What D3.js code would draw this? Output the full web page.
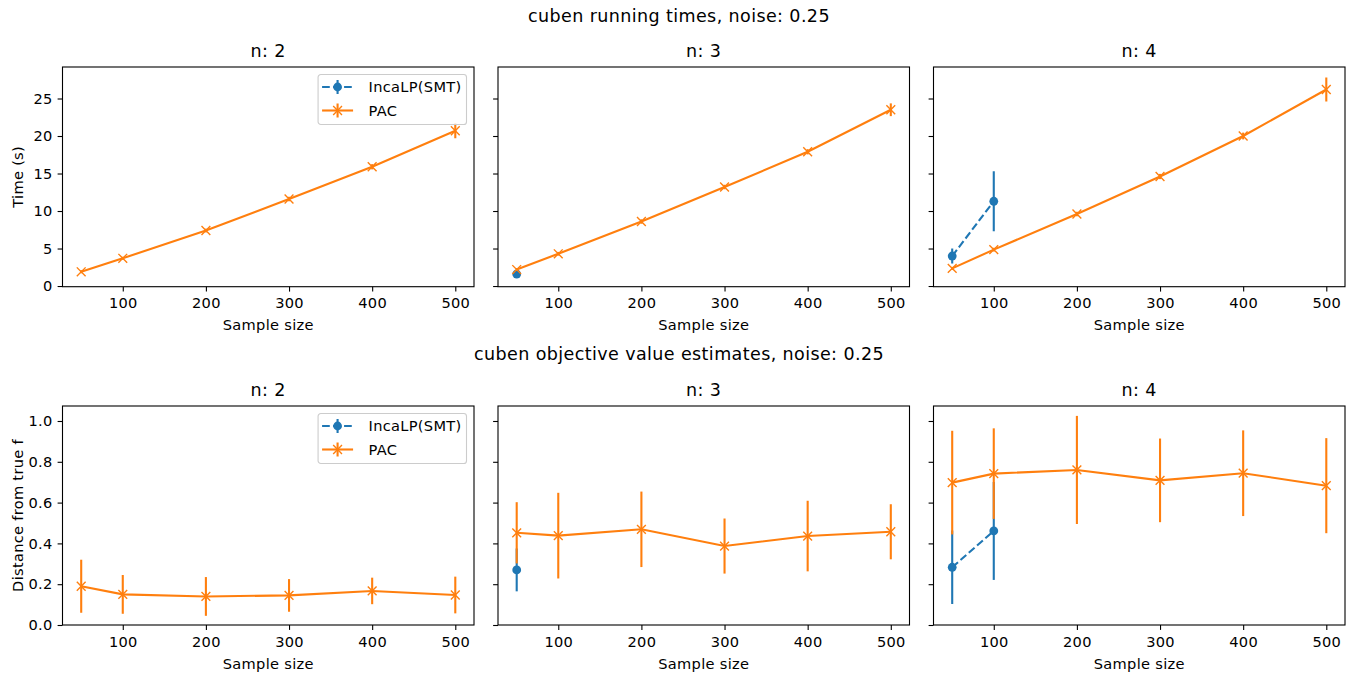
<!DOCTYPE html>
<html>
<head>
<meta charset="utf-8">
<script src="https://cdn.jsdelivr.net/npm/d3@7"></script>
<style>
  body { margin: 0; background: #fff; }
  text { font-family: "DejaVu Sans", sans-serif; fill: #000; }
  .tick line, .domain { stroke: #000; }
</style>
</head>
<body>
<svg id="fig" width="1359" height="677"></svg>
<script>
// ---- data ----
var nValues = [2, 3, 4];
var sampleSizes = [50, 100, 200, 300, 400, 500];

// running times (s), PAC
var timePacMean = [
    [1.9, 3.7, 7.4, 11.6, 15.9, 20.7],
    [2.2, 4.3, 8.6, 13.2, 17.9, 23.5],
    [2.35, 4.85, 9.6, 14.6, 20.0, 26.2]
];
var timePacErr = [
    [0.2, 0.2, 0.25, 0.3, 0.35, 1.0],
    [0.2, 0.25, 0.3, 0.3, 0.35, 0.85],
    [0.2, 0.25, 0.3, 0.35, 0.45, 1.6]
];
// running times (s), IncaLP(SMT) - only finished for small samples
var timeIncaSizes = [[], [50], [50, 100]];
var timeIncaMean = [[], [1.6], [4.0, 11.3]];
var timeIncaErr = [[], [0.2], [1.0, 4.0]];

// distance from true f, PAC
var distPacMean = [
    [0.19, 0.15, 0.14, 0.145, 0.167, 0.147],
    [0.452, 0.438, 0.469, 0.387, 0.436, 0.457],
    [0.698, 0.742, 0.76, 0.709, 0.744, 0.683]
];
var distPacErr = [
    [0.13, 0.095, 0.095, 0.08, 0.065, 0.09],
    [0.15, 0.21, 0.185, 0.135, 0.173, 0.135],
    [0.254, 0.222, 0.265, 0.205, 0.21, 0.233]
];
var distIncaSizes = [[], [50], [50, 100]];
var distIncaMean = [[], [0.27], [0.283, 0.461]];
var distIncaErr = [[], [0.105], [0.18, 0.24]];

var xTicks = [100, 200, 300, 400, 500];
var timeTicks = [0, 5, 10, 15, 20, 25];
var distTicks = [0, 0.2, 0.4, 0.6, 0.8, 1.0];
var seriesNames = ["IncaLP(SMT)", "PAC"];

// ---- layout ----
var blue = "#1f77b4", orange = "#ff7f0e";
var fontSize = 14.6, titleSize = 17.5;
var panelLefts = [62.5, 498, 933.5];
var panelW = 411.5;
var lw = 2.1;

var svg = d3.select("#fig");

function translate(x, y) {
    return "translate(" + x + "," + y + ")";
}

function zip(xs, ys, es) {
    return xs.map((x, i) => ({ x: x, y: ys[i], e: es[i] }));
}

function label(sel, size) {
    return sel.style("font-size", size + "px")
        .style("letter-spacing", (size > 16 ? 0.4 : 0.3) + "px");
}

function drawSeries(g, pts, x, y, color, dashed, marker) {
    var line = d3.line().x(d => x(d.x)).y(d => y(d.y));
    g.append("path")
        .attr("d", line(pts))
        .attr("fill", "none")
        .attr("stroke", color)
        .attr("stroke-width", lw)
        .attr("stroke-dasharray", dashed ? "7.7,3.3" : null);

    g.selectAll(null)
        .data(pts)
      .enter().append("line")
        .attr("x1", d => x(d.x)).attr("x2", d => x(d.x))
        .attr("y1", d => y(d.y - d.e)).attr("y2", d => y(d.y + d.e))
        .attr("stroke", color)
        .attr("stroke-width", lw);

    var m = g.selectAll(null)
        .data(pts)
      .enter().append("g")
        .attr("transform", d => translate(x(d.x), y(d.y)));
    drawMarker(m, color, marker);
}

function drawMarker(sel, color, marker) {
    if (marker == "o") {
        sel.append("circle").attr("r", 4.4).attr("fill", color);
    } else {
        sel.append("path")
            .attr("d", "M-4.4,-4.4L4.4,4.4M-4.4,4.4L4.4,-4.4")
            .attr("stroke", color)
            .attr("stroke-width", 1.4)
            .attr("fill", "none");
    }
}

function drawLegend(g, right, top) {
    var lg = g.append("g");
    var box = lg.append("rect");
    var rows = [
        { name: seriesNames[0], color: blue, dashed: true, marker: "o" },
        { name: seriesNames[1], color: orange, dashed: false, marker: "x" }
    ];
    var maxW = 0;
    rows.forEach(function(r, i) {
        var cy = 12.5 + i * 23.5;
        var h = lg.append("g").attr("transform", translate(0, cy));
        h.append("line")
            .attr("x1", 4).attr("x2", 35)
            .attr("stroke", r.color).attr("stroke-width", lw)
            .attr("stroke-dasharray", r.dashed ? "7.7,3.3" : null);
        h.append("line")
            .attr("x1", 19.5).attr("x2", 19.5).attr("y1", -7).attr("y2", 7)
            .attr("stroke", r.color).attr("stroke-width", lw);
        drawMarker(h.append("g").attr("transform", translate(19.5, 0)), r.color, r.marker);
        var t = label(h.append("text"), fontSize)
            .attr("x", 50.5).attr("dy", "0.36em")
            .text(r.name);
        maxW = Math.max(maxW, t.node().getComputedTextLength());
    });
    var w = 50.5 + maxW + 5;
    box.attr("width", w).attr("height", 50)
        .attr("rx", 2.8)
        .attr("fill", "#fff").attr("fill-opacity", 0.8)
        .attr("stroke", "#cccccc").attr("stroke-width", 1.1);
    lg.attr("transform", translate(right - w, top));
}

function drawRow(opts) {
    var y = d3.scaleLinear().domain(opts.yDomain).range([opts.top + opts.h, opts.top]);

    label(svg.append("text"), titleSize)
        .attr("x", 679).attr("y", opts.supY)
        .attr("text-anchor", "middle")
        .text(opts.supTitle);

    nValues.forEach(function(n, k) {
        var left = panelLefts[k];
        var x = d3.scaleLinear().domain([27.5, 522.5]).range([left, left + panelW]);
        var g = svg.append("g");

        var xAxis = g.append("g")
            .attr("transform", translate(0, opts.top + opts.h))
            .call(d3.axisBottom(x).tickValues(xTicks).tickSize(4.9).tickPadding(6.5).tickSizeOuter(0));
        var yAxis = g.append("g")
            .attr("transform", translate(left, 0))
            .call(d3.axisLeft(y).tickValues(opts.yTicks).tickSize(4.9).tickPadding(5)
                .tickSizeOuter(0).tickFormat(k == 0 ? opts.yFormat : ""));
        [xAxis, yAxis].forEach(function(a) {
            label(a.selectAll("text"), fontSize).attr("font-family", null);
            a.selectAll("line").attr("stroke-width", 1.1);
            a.select(".domain").remove();
        });

        // data
        var plot = g.append("g");
        var incaPts = zip(opts.incaSizes[k], opts.incaMean[k], opts.incaErr[k]);
        if (incaPts.length) drawSeries(plot, incaPts, x, y, blue, true, "o");
        drawSeries(plot, zip(sampleSizes, opts.pacMean[k], opts.pacErr[k]), x, y, orange, false, "x");

        // frame
        g.append("rect")
            .attr("x", left).attr("y", opts.top)
            .attr("width", panelW).attr("height", opts.h)
            .attr("fill", "none").attr("stroke", "#000").attr("stroke-width", 1.1);

        label(g.append("text"), titleSize)
            .attr("x", left + panelW / 2).attr("y", opts.top - 10)
            .attr("text-anchor", "middle")
            .text("n: " + n);

        label(g.append("text"), fontSize)
            .attr("x", left + panelW / 2).attr("y", opts.xLabelY)
            .attr("text-anchor", "middle")
            .text("Sample size");

        if (k == 0) {
            label(g.append("text"), fontSize)
                .attr("transform", translate(23, opts.top + opts.h / 2) + " rotate(-90)")
                .attr("text-anchor", "middle")
                .text(opts.yLabel);
            drawLegend(g, left + panelW - 7.5, opts.top + 7.5);
        }
    });
}

drawRow({
    supTitle: "cuben running times, noise: 0.25", supY: 22,
    top: 67, h: 219.7, xLabelY: 330,
    yDomain: [-0.09, 29.2], yTicks: timeTicks, yFormat: d3.format("d"),
    yLabel: "Time (s)",
    pacMean: timePacMean, pacErr: timePacErr,
    incaSizes: timeIncaSizes, incaMean: timeIncaMean, incaErr: timeIncaErr
});

drawRow({
    supTitle: "cuben objective value estimates, noise: 0.25", supY: 360,
    top: 406, h: 219, xLabelY: 669,
    yDomain: [0, 1.0735], yTicks: distTicks, yFormat: d3.format(".1f"),
    yLabel: "Distance from true f",
    pacMean: distPacMean, pacErr: distPacErr,
    incaSizes: distIncaSizes, incaMean: distIncaMean, incaErr: distIncaErr
});
</script>
</body>
</html>
